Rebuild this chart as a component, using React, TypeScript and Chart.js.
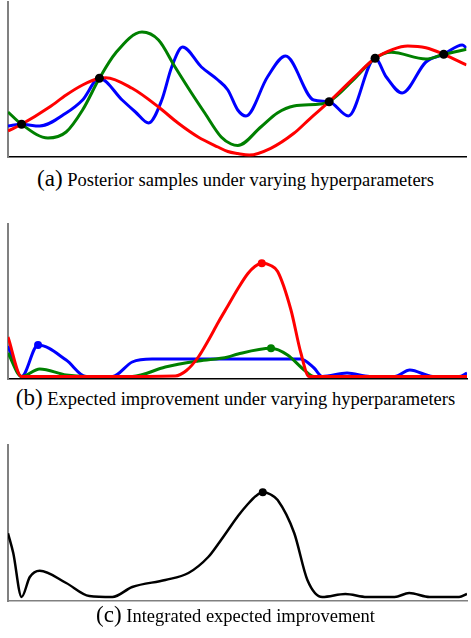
import React, { useEffect, useRef } from "react";
import { Chart, registerables } from "chart.js";

Chart.register(...registerables);

type Pt = [number, number];

const X_MAX = 463;

// ---- Panel (a): posterior samples ----
const aObservations: Pt[] = [[13.7, 32.7], [92.3, 78.7], [324.3, 55.3], [370.7, 98.7], [440, 102.7]];
const aRed: Pt[] = [
  [0, 26], [13.7, 32.7], [42, 50], [58.7, 62], [75.3, 72], [92.3, 78.7], [98.7, 79.3], [125.3, 68.7],
  [152, 50], [172, 33.7], [192, 20], [212, 10], [222, 5.5], [232, 3.5], [243.7, 2], [265.3, 8.7],
  [288.7, 23.7], [305.3, 38.7], [324.3, 55.3], [348.7, 78.7], [370.7, 98.7], [388.7, 107.7],
  [403.7, 111], [422, 109.3], [440, 102.7], [463, 92],
];
const aGreen: Pt[] = [
  [0, 45], [13.7, 32.7], [40.3, 19], [58.7, 25], [75.3, 47], [92.3, 78.7], [108.7, 104], [135.3, 125],
  [152, 117], [168.7, 90], [185.3, 64], [198.7, 44], [215.3, 20], [225.3, 13], [232, 11.5],
  [255.3, 30], [272, 44], [288.7, 51], [315.3, 53], [324.3, 55.3], [348.7, 77], [370.7, 98.7],
  [387, 104.7], [422, 98], [440, 102.7], [463, 107.7],
];
const aBlue: Pt[] = [
  [0, 31], [13.7, 32.7], [32, 31], [58.7, 44], [75.3, 57], [92.3, 78.7], [115.3, 57], [128.7, 45],
  [142, 34], [155.3, 57], [165.3, 90], [176.3, 110], [195.3, 90], [212, 77], [222, 67], [232, 47],
  [240.3, 41], [262, 80], [280.3, 101], [308.7, 57], [324.3, 55.3], [343.7, 41], [370.7, 98.7],
  [382, 80], [398, 64], [422, 95], [440, 102.7], [458.7, 112], [463, 109],
];

// ---- Panel (b): expected improvement per hyperparameter ----
const bRed: Pt[] = [
  [0, 39.5], [13.7, 0], [100, 0], [168.7, 0.5], [180, 6], [192, 19.5], [202, 36], [212, 54],
  [222, 71], [232, 88], [242, 103], [249, 110], [256, 113.2], [265, 111], [272, 105], [285.3, 67],
  [295.3, 24], [303.7, 0], [463, 0],
];
const bRedMax: Pt[] = [[256, 113.2]];
const bGreen: Pt[] = [
  [0, 23.5], [13.7, 0], [32, 7.5], [58.7, 1.5], [80, 0], [125.3, 0], [158.7, 9.5], [192, 15.5],
  [222, 19.5], [232, 22.5], [265.3, 28.2], [282, 21.5], [298.7, 6.5], [308.7, 0], [463, 0],
];
const bGreenMax: Pt[] = [[265.3, 28.2]];
const bBlue: Pt[] = [
  [0, 30.5], [13.7, 0], [30.3, 31.5], [58.7, 16.5], [78.7, 0], [105.3, 0], [125.3, 14.5],
  [145.3, 17.5], [200, 17.5], [295.3, 17.5], [308.7, 8.5], [317, 0], [342, 3.5], [365, 0],
  [390, 0], [405.3, 6.5], [428.7, 0], [455, 0], [463, 3.5],
];
const bBlueMax: Pt[] = [[30.3, 31.5]];

// ---- Panel (c): integrated expected improvement ----
const cBlack: Pt[] = [
  [0, 63.7], [5.3, 44], [13.7, 0], [22, 20], [32, 26.3], [58.7, 14], [82, 1], [105.3, 0],
  [125.3, 10], [158.7, 17], [182, 24], [202, 40], [212, 53], [222, 67], [232, 81], [242, 93],
  [250, 101], [257, 104.7], [265, 102.5], [272, 97], [288.7, 64], [302, 17], [317, 0], [340.3, 3],
  [362, 0], [390, 0], [404.7, 4], [425.3, 0], [455, 0], [463, 3],
];
const cBlackMax: Pt[] = [[257, 104.7]];

const toXY = (pts: Pt[]) => pts.map(([x, y]) => ({ x, y }));

function lineDs(pts: Pt[], color: string, width: number) {
  return {
    data: toXY(pts),
    borderColor: color,
    backgroundColor: color,
    borderWidth: width,
    pointRadius: 0,
    cubicInterpolationMode: "monotone" as const,
    fill: false,
  };
}

function markerDs(pts: Pt[], color: string, r: number) {
  return {
    data: toXY(pts),
    borderColor: color,
    backgroundColor: color,
    pointBackgroundColor: color,
    pointBorderColor: color,
    pointRadius: r,
    borderWidth: 0,
    showLine: false,
  };
}

interface PanelProps {
  areaTop: number;
  areaBottom: number;
  yMin: number;
  yMax: number;
  datasets: any[];
  bottomColor: string;
}

function Panel({ areaTop, areaBottom, yMin, yMax, datasets, bottomColor }: PanelProps) {
  const ref = useRef<HTMLCanvasElement>(null);
  const pad = 5;
  const height = areaBottom - areaTop + 2 * pad;
  useEffect(() => {
    if (!ref.current) return;
    const chart = new Chart(ref.current, {
      type: "line",
      data: { datasets },
      options: {
        animation: false,
        responsive: false,
        maintainAspectRatio: false,
        devicePixelRatio: 1,
        layout: { padding: { left: 8, right: 0, top: pad, bottom: pad } },
        plugins: { legend: { display: false }, tooltip: { enabled: false } },
        events: [],
        scales: {
          x: {
            type: "linear",
            min: 0,
            max: X_MAX,
            ticks: { display: false },
            grid: { display: false, drawTicks: false },
            border: { display: true, color: bottomColor, width: 1.5 },
          },
          y: {
            type: "linear",
            min: yMin,
            max: yMax,
            ticks: { display: false },
            grid: { display: false, drawTicks: false },
            border: { display: true, color: "#808080", width: 2 },
          },
        },
      },
    });
    return () => chart.destroy();
  }, []);
  return (
    <canvas
      ref={ref}
      width={471}
      height={height}
      style={{ position: "absolute", left: 0, top: areaTop - pad, width: 471, height }}
    />
  );
}

function Caption({ top, label, text }: { top: number; label: string; text: string }) {
  return (
    <div
      style={{
        position: "absolute",
        left: 0,
        top,
        width: 471,
        textAlign: "center",
        fontFamily: "'Liberation Serif', 'Times New Roman', serif",
        color: "#000",
        lineHeight: "24px",
        whiteSpace: "nowrap",
      }}
    >
      <span style={{ fontSize: 23 }}>{label}</span>
      <span style={{ fontSize: 18.5 }}> {text}</span>
    </div>
  );
}

export default function App() {
  return (
    <div style={{ position: "absolute", left: 0, top: 0, width: 471, height: 638, background: "#fff" }}>
      <Panel
        areaTop={2}
        areaBottom={157}
        yMin={0}
        yMax={155}
        bottomColor="#000"
        datasets={[
          markerDs(aObservations, "#000", 4.5),
          lineDs(aRed, "#ff0000", 3),
          lineDs(aGreen, "#008000", 3),
          lineDs(aBlue, "#0000ff", 3),
        ]}
      />
      <Caption top={167} label="(a)" text="Posterior samples under varying hyperparameters" />
      <Panel
        areaTop={224}
        areaBottom={379}
        yMin={-2.5}
        yMax={152.5}
        bottomColor="#000"
        datasets={[
          markerDs(bRedMax, "#ff0000", 4),
          markerDs(bGreenMax, "#008000", 4),
          markerDs(bBlueMax, "#0000ff", 4),
          lineDs(bRed, "#ff0000", 3),
          lineDs(bGreen, "#008000", 3),
          lineDs(bBlue, "#0000ff", 3),
        ]}
      />
      <Caption top={386} label="(b)" text="Expected improvement under varying hyperparameters" />
      <Panel
        areaTop={445}
        areaBottom={601}
        yMin={-4}
        yMax={152}
        bottomColor="#808080"
        datasets={[markerDs(cBlackMax, "#000", 4), lineDs(cBlack, "#000", 2.5)]}
      />
      <Caption top={603} label="(c)" text="Integrated expected improvement" />
    </div>
  );
}
